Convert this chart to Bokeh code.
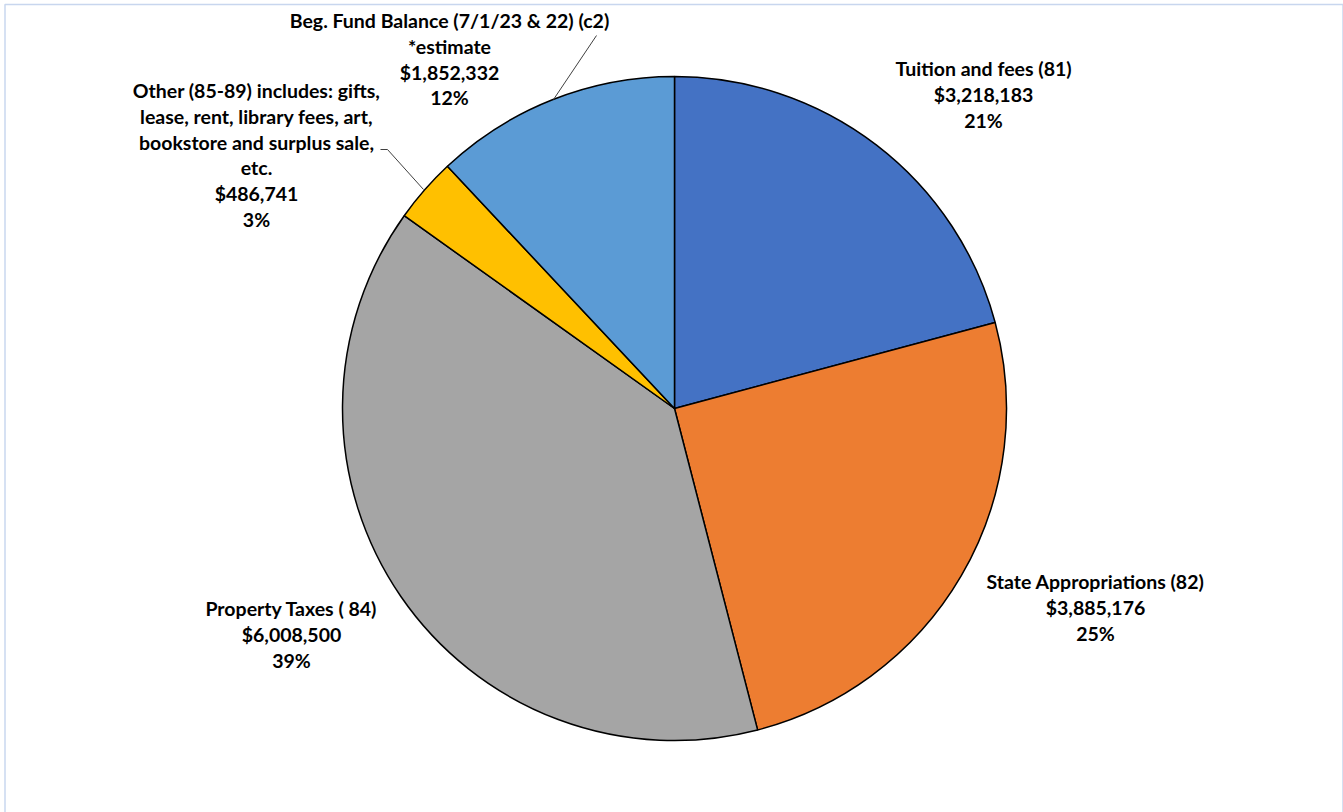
import math
from bokeh.plotting import figure
from bokeh.models import Range1d, BoxAnnotation
from bokeh.core.properties import value
from bokeh.embed import file_html
from bokeh.resources import INLINE

W, H = 1343, 812

# ---- data ----
categories = ["Tuition and fees (81)", "State Appropriations (82)", "Property Taxes ( 84)",
              "Other (85-89) includes: gifts,|lease, rent, library fees, art,|bookstore and surplus sale,|etc.",
              "Beg. Fund Balance (7/1/23 & 22) (c2)|*estimate"]
amounts = [3218183, 3885176, 6008500, 486741, 1852332]
colors = ["#4472C4", "#ED7D31", "#A5A5A5", "#FFC000", "#5B9BD5"]

# ---- layout (pixel space, y measured from top) ----
cx, cy, R = 674, 408, 332
label_centers = [(983, 68), (1095, 581), (291, 608), (256, 90), (449, 20)]
line_h = 25.8
leaders = [None, None, None, [(380, 149), (387, 149), (423, 189)], [(596, 35), (553, 99)]]

def Y(y):
    return H - y

p = figure(width=W, height=H, output_backend="svg", toolbar_location=None,
           x_range=Range1d(0, W), y_range=Range1d(0, H), min_border=0)
p.axis.visible = False
p.grid.visible = False
p.outline_line_color = None
p.background_fill_color = "white"
p.border_fill_color = "white"

total = sum(amounts)
cum = 0.0
starts, ends = [], []
for a in amounts:
    s = cum / total
    cum += a
    e = cum / total
    starts.append(math.pi / 2 - e * 2 * math.pi)
    ends.append(math.pi / 2 - s * 2 * math.pi)

p.wedge(x=[cx] * len(amounts), y=[Y(cy)] * len(amounts), radius=R,
        start_angle=starts, end_angle=ends, direction="anticlock",
        fill_color=colors, line_color="black", line_width=1.5)

xs, ys, texts = [], [], []
for cat, a, (lx, ly) in zip(categories, amounts, label_centers):
    pct = round(100 * a / total)
    lines = cat.split("|") + ["${:,}".format(a), "{}%".format(pct)]
    for i, t in enumerate(lines):
        xs.append(lx)
        ys.append(Y(ly + i * line_h))
        texts.append(t)

p.text(x=xs, y=ys, text=texts, text_font=value("Lato"), text_font_style="bold",
       text_font_size="19.5px", text_align="center", text_baseline="middle", text_color="black")

for ld in leaders:
    if ld:
        p.line([q[0] for q in ld], [Y(q[1]) for q in ld], line_color="#404040", line_width=1)

p.add_layout(BoxAnnotation(left=4.5, right=1342.5, top=Y(4), bottom=Y(830),
                           fill_color=None, line_color="#4a78c8", line_width=1.5))

open("out.html", "w").write(file_html(p, INLINE))
